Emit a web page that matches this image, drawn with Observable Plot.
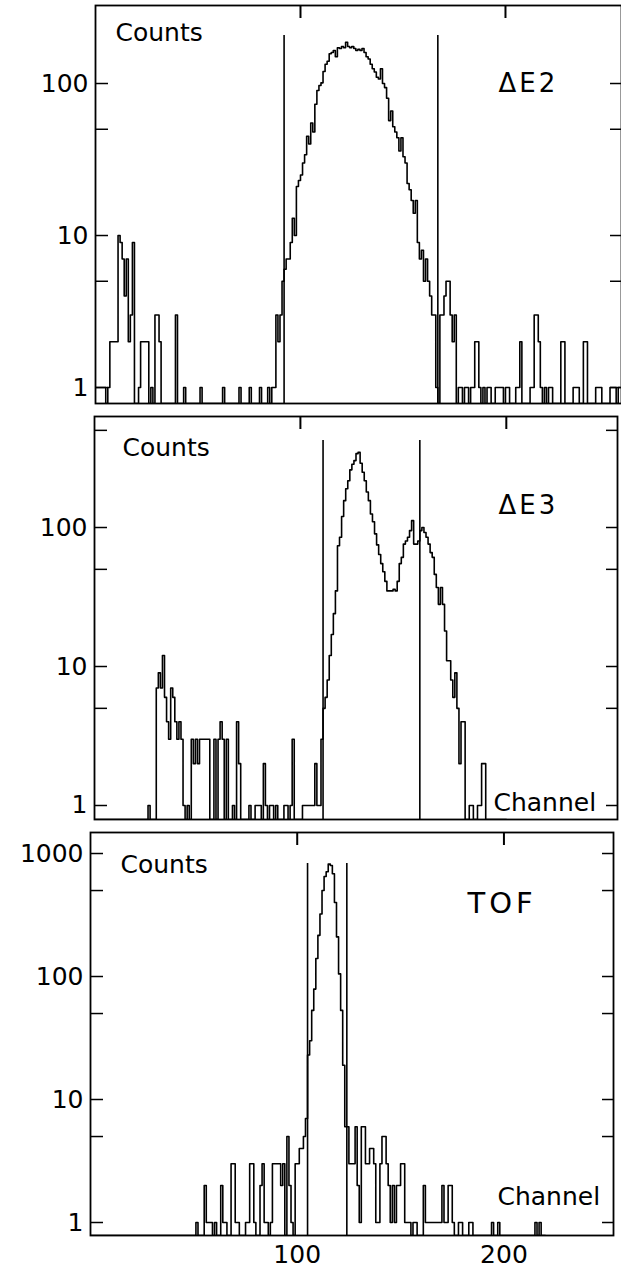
<!DOCTYPE html>
<html><head><meta charset="utf-8">
<script src="https://cdn.jsdelivr.net/npm/d3@7"></script>
<script src="https://cdn.jsdelivr.net/npm/@observablehq/plot@0.6"></script>
<style>
body{margin:0;background:#fff;}
#chart svg{display:block;}
</style></head><body><div id="chart"></div>
<script>
// Counts per channel (channel index = array index); 0 = empty channel
const countsE2 = [
  1,1,1,1,1,0,1,2,2,2,
  2,10,9,7,4,7,2,3,9,0,
  0,1,2,2,2,2,0,1,0,3,
  3,2,0,0,0,0,0,0,0,3,
  0,0,0,1,0,0,0,0,0,0,
  0,1,0,0,0,0,0,0,0,0,
  0,0,1,0,0,0,0,0,0,0,
  1,0,0,0,0,1,0,0,0,0,
  1,0,0,0,1,0,1,1,3,2,
  3,5,6,7,7,9,13,10,21,23,
  25,30,34,45,40,55,48,73,90,97,
  101,120,134,140,157,160,165,150,172,170,
  175,172,187,175,172,175,170,165,168,165,
  170,160,150,145,134,125,119,110,107,125,
  100,94,80,57,66,52,48,44,36,44,
  33,30,22,20,17,14,17,9,7,8,
  5,7,5,4,3,3,1,0,3,3,
  4,5,5,3,2,3,0,1,1,0,
  1,1,0,1,1,2,2,1,0,1,
  0,1,1,0,0,1,1,1,1,0,
  1,1,0,0,0,1,1,2,0,0,
  0,0,1,1,3,3,2,1,0,1,
  0,1,1,0,0,0,0,2,2,0,
  0,0,0,1,1,1,0,0,2,2,
  0,0,0,0,1,1,1,0,0,0,
  0,1,1,1,0,1
];
const countsE3 = [
  0,0,0,0,0,0,0,0,0,0,
  0,0,0,0,0,0,0,0,0,0,
  0,0,0,0,0,0,1,0,0,0,
  7,9,7,12,6,4,3,7,6,4,
  3,4,3,1,0,1,0,3,2,3,
  2,3,3,3,3,3,0,0,3,0,
  3,4,3,0,3,0,0,1,0,4,
  2,0,0,0,0,1,0,0,1,1,
  1,0,2,1,0,1,1,0,1,0,
  0,0,1,1,0,1,3,0,0,0,
  0,1,1,1,1,1,1,2,1,1,
  3,5,6,8,12,17,24,35,74,85,
  120,156,190,217,260,285,303,340,347,290,
  250,217,180,156,125,110,90,75,64,55,
  48,41,35,35,35,36,35,41,55,61,
  76,80,85,95,112,76,76,80,95,100,
  92,85,76,66,61,46,37,28,37,28,
  18,11,11,8,6,9,5,2,4,4,
  0,0,1,1,0,0,1,1,2,2,
  0,0,0,0,0,0,0,0,0,0
];
const countsTOF = [
  0,0,0,0,0,0,0,0,0,0,
  0,0,0,0,0,0,0,0,0,0,
  0,0,0,0,0,0,0,0,0,0,
  0,0,0,0,0,0,0,0,0,0,
  0,0,0,0,0,0,0,0,0,0,
  0,1,0,0,0,2,1,1,1,0,
  1,0,0,2,1,1,0,0,3,3,
  1,1,0,0,0,1,1,3,3,1,
  0,0,2,3,1,1,0,1,3,3,
  3,3,2,3,0,5,2,1,0,3,
  3,4,4,5,7,23,30,53,79,140,
  216,322,500,650,710,820,800,685,400,210,
  105,53,19,6,6,3,3,3,6,2,
  1,6,6,3,3,4,4,3,1,1,
  3,5,5,3,2,1,2,1,2,2,
  3,3,1,1,1,0,1,1,0,0,
  0,2,1,1,1,1,1,1,1,1,
  2,1,1,2,2,1,0,0,1,1,
  0,0,0,1,1,0,0,0,0,0,
  0,0,0,0,1,0,0,1,0,0,
  0,0,0,0,0,0,0,0,0,0,
  0,0,0,0,0,1,0,1,0,0
];
// gate (window) channels and the count level their lines reach
const gatesE2 = [92, 167];
const gatesE3 = [111, 158];
const gatesTOF = [105, 124];
const gateTops = [207, 423, 829];
// tick values
const yMajorE2 = [1, 10, 100];
const yMinorE2 = [5, 50];
const yMajorE3 = [1, 10, 100];
const yMinorE3 = [5, 50, 500];
const yMajorTOF = [1, 10, 100, 1000];
const yMinorTOF = [5, 50, 500];
const xTicks = [100, 200];
const panelNames = ["ΔE2", "ΔE3", "TOF"];
const yTitle = "Counts";
const xTitle = "Channel";

function panel(o) {
  const data = o.counts.map((v, i) => ({ch: i, v}));
  data.push({ch: o.counts.length, v: o.counts[o.counts.length - 1]});
  const floor = o.domainY[0];
  const innerH = o.height - o.mt - o.mb;
  const marks = [
    Plot.line(data, {x: "ch", y: d => Math.max(d.v, floor), curve: "step-after", stroke: "#000", strokeWidth: 1.6, clip: true}),
    Plot.ruleX(o.gates, {x: d => d, y1: floor, y2: o.gateTop, stroke: "#000", strokeWidth: 1.6}),
    Plot.frame({stroke: "#000", strokeWidth: 1.8}),
    Plot.tickX(xTicks, {x: d => d, insetBottom: innerH - 13, stroke: "#000", strokeWidth: 2}),
    Plot.axisY(o.yMajor, {anchor: "left", label: null, tickSize: -13, tickPadding: 20, strokeWidth: 1.5, tickFormat: d => String(d), fontSize: 25}),
    Plot.axisY(o.yMinor, {anchor: "left", label: null, tickSize: -13, strokeWidth: 1.5, tickFormat: () => ""}),
    Plot.axisY([...o.yMajor, ...o.yMinor], {anchor: "right", label: null, tickSize: -12, strokeWidth: 1.5, tickFormat: () => ""}),
    Plot.text([yTitle], {frameAnchor: "top-left", textAnchor: "start", lineAnchor: "top", dx: o.countsPos[0], dy: o.countsPos[1], fontSize: 25}),
    Plot.text([o.name], {frameAnchor: "top-left", textAnchor: "start", lineAnchor: "top", dx: o.namePos[0], dy: o.namePos[1], fontSize: o.nameSize})
  ];
  if (o.channelPos) marks.push(Plot.text([xTitle], {frameAnchor: "top-left", textAnchor: "start", lineAnchor: "top", dx: o.channelPos[0], dy: o.channelPos[1], fontSize: 25}));
  if (o.xLabels) marks.push(Plot.axisX(xTicks, {anchor: "bottom", label: null, tickSize: 0, tickPadding: 10, tickFormat: d => String(d), fontSize: 25}));
  else marks.push(Plot.axisX([], {anchor: "bottom", label: null}));
  const svg = Plot.plot({
    width: 621, height: o.height,
    marginTop: o.mt, marginBottom: o.mb, marginLeft: o.ml, marginRight: o.mr,
    x: {domain: o.domainX},
    y: {type: "log", domain: o.domainY},
    style: {fontFamily: "DejaVu Sans", fontSize: "25px", color: "#000", background: "#fff"},
    marks
  });
  d3.select(svg).selectAll("text").filter(function() { return this.textContent === o.name; }).attr("letter-spacing", o.nameSpacing);
  return svg;
}

const root = document.getElementById("chart");
root.append(panel({
  counts: countsE2, gates: gatesE2, gateTop: gateTops[0], yMajor: yMajorE2, yMinor: yMinorE2,
  domainX: [0, 256.6], domainY: [0.785, 326], height: 410, mt: 5, mb: 7, ml: 95, mr: 0,
  name: panelNames[0], countsPos: [20, 18], namePos: [403, 68], nameSize: 26, nameSpacing: "3px"
}));
root.append(panel({
  counts: countsE3, gates: gatesE3, gateTop: gateTops[1], yMajor: yMajorE3, yMinor: yMinorE3,
  domainX: [0, 254], domainY: [0.793, 629], height: 412, mt: 6, mb: 3, ml: 94, mr: 4,
  name: panelNames[1], countsPos: [28, 22], namePos: [404, 79], nameSize: 26, nameSpacing: "3px",
  channelPos: [399, 377]
}));
root.append(panel({
  counts: countsTOF, gates: gatesTOF, gateTop: gateTops[2], yMajor: yMajorTOF, yMinor: yMinorTOF,
  domainX: [0, 253], domainY: [0.784, 1482], height: 448, mt: 10, mb: 35, ml: 90, mr: 8,
  name: panelNames[2], countsPos: [30, 23], namePos: [377, 60], nameSize: 29, nameSpacing: "4px",
  channelPos: [407, 355], xLabels: true
}));
</script></body></html>
